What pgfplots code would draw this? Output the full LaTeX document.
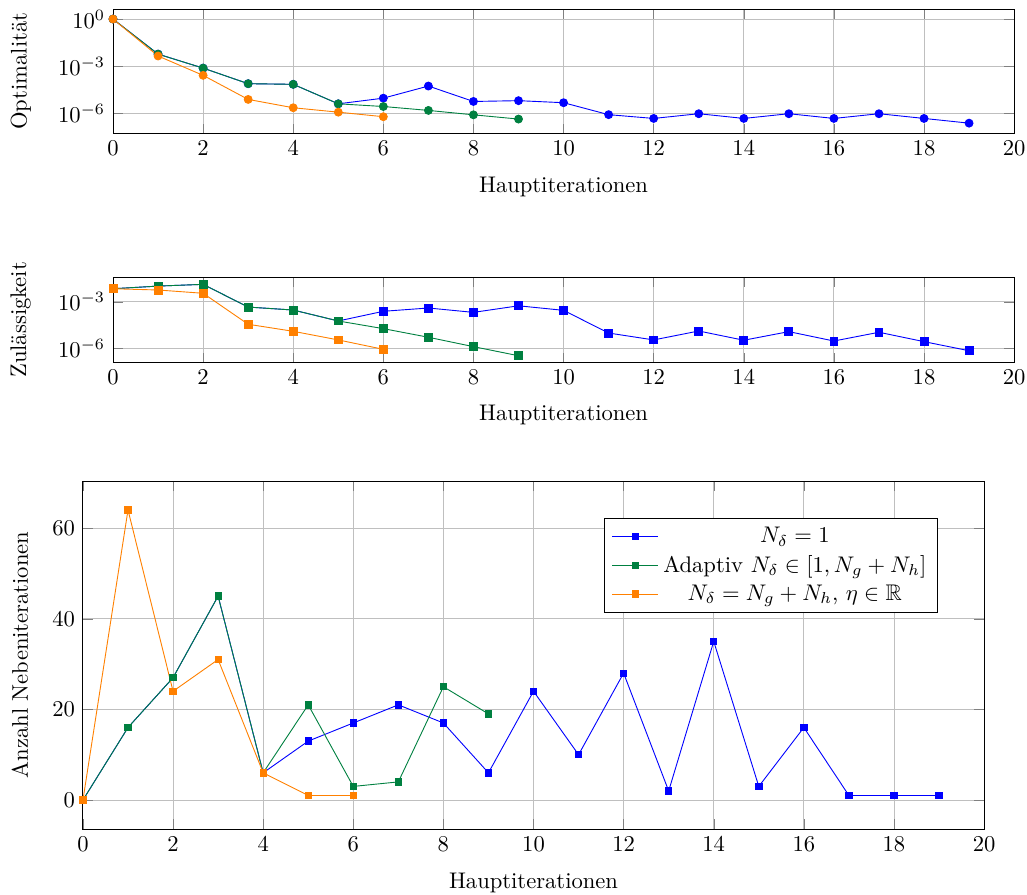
\documentclass[border=0pt]{standalone}
\usepackage{pgfplots}
\usepackage{amssymb}
\pgfplotsset{compat=1.18}

\definecolor{serblue}{RGB}{0,0,255}
\definecolor{sergreen}{RGB}{0,128,64}
\definecolor{serorange}{RGB}{255,128,0}

\pgfplotsset{
  common/.style={
    scale only axis,
    width=398.7pt,
    xmin=0, xmax=20,
    xtick={0,2,...,20},
    grid=major,
    major grid style={gray!50},
    anchor=south west,
  },
}

\begin{document}
\begin{tikzpicture}
\useasboundingbox (0,0) rectangle (454.4pt,-395.6pt);

% Optimalitaet
\begin{axis}[common,
  at={(50.0pt,-59.0pt)},
  height=55.0pt,
  ymode=log,
  ymin=5.4e-8, ymax=4.33,
  ytick={1,1e-3,1e-6},
  xlabel={Hauptiterationen},
  ylabel={Optimalität},
  xlabel style={at={(axis description cs:0.5,-0.432)}, anchor=center},
  ylabel style={at={(axis description cs:-0.1024,0.5)}, anchor=center},
]
\addplot[serblue, mark=*, mark size=1.75pt] coordinates {
 (0,1) (1,5.89e-3) (2,7.59e-4) (3,7.76e-5) (4,7.08e-5) (5,4.07e-6)
 (6,9.33e-6) (7,5.50e-5) (8,5.75e-6) (9,6.46e-6) (10,4.79e-6)
 (11,8.32e-7) (12,4.79e-7) (13,9.55e-7) (14,4.79e-7) (15,9.55e-7)
 (16,4.79e-7) (17,9.55e-7) (18,4.79e-7) (19,2.40e-7)};
\addplot[sergreen, mark=*, mark size=1.75pt] coordinates {
 (0,1) (1,5.89e-3) (2,7.59e-4) (3,7.76e-5) (4,7.08e-5) (5,4.07e-6)
 (6,2.75e-6) (7,1.55e-6) (8,8.13e-7) (9,4.37e-7)};
\addplot[serorange, mark=*, mark size=1.75pt] coordinates {
 (0,1) (1,4.47e-3) (2,2.63e-4) (3,7.76e-6) (4,2.29e-6) (5,1.20e-6)
 (6,6.17e-7)};
\end{axis}

% Zulaessigkeit
\begin{axis}[common,
  at={(50.0pt,-160.3pt)},
  height=37.6pt,
  ymode=log,
  ymin=1.35e-7, ymax=0.0363,
  ytick={1e-3,1e-6},
  xlabel={Hauptiterationen},
  ylabel={Zulässigkeit},
  xlabel style={at={(axis description cs:0.5,-0.620)}, anchor=center},
  ylabel style={at={(axis description cs:-0.1024,0.5)}, anchor=center},
]
\addplot[serblue, mark=square*, mark size=1.75pt] coordinates {
 (0,6.76e-3) (1,1.0e-2) (2,1.29e-2) (3,4.57e-4) (4,2.95e-4) (5,5.89e-5)
 (6,2.45e-4) (7,3.98e-4) (8,2.09e-4) (9,5.50e-4) (10,2.82e-4)
 (11,1.0e-5) (12,3.63e-6) (13,1.35e-5) (14,3.47e-6) (15,1.23e-5)
 (16,3.09e-6) (17,1.12e-5) (18,2.82e-6) (19,7.41e-7)};
\addplot[sergreen, mark=square*, mark size=1.75pt] coordinates {
 (0,6.76e-3) (1,1.0e-2) (2,1.29e-2) (3,4.57e-4) (4,2.95e-4) (5,5.89e-5)
 (6,1.91e-5) (7,5.37e-6) (8,1.35e-6) (9,3.55e-7)};
\addplot[serorange, mark=square*, mark size=1.75pt] coordinates {
 (0,6.76e-3) (1,5.62e-3) (2,3.47e-3) (3,3.63e-5) (4,1.29e-5) (5,3.63e-6)
 (6,9.12e-7)};
\end{axis}

% Anzahl Nebeniterationen
\begin{axis}[common,
  at={(36.7pt,-366.8pt)},
  height=154.0pt,
  ymin=-6.4, ymax=70.4,
  ytick={0,20,40,60},
  xlabel={Hauptiterationen},
  ylabel={Anzahl Nebeniterationen},
  xlabel style={at={(axis description cs:0.5,-0.155)}, anchor=center},
  ylabel style={at={(axis description cs:-0.0699,0.5)}, anchor=center},
  legend cell align=center,
  legend style={at={(rel axis cs:0.949,0.894)}, anchor=north east},
  legend image code/.code={%
    \draw[mark repeat=2,mark phase=2]
      plot coordinates {(0cm,0cm) (0.36cm,0cm) (0.72cm,0cm)};},
]
\addplot[serblue, mark=square*, mark size=1.4pt] coordinates {
 (0,0) (1,16) (2,27) (3,45) (4,6) (5,13) (6,17) (7,21) (8,17) (9,6)
 (10,24) (11,10) (12,28) (13,2) (14,35) (15,3) (16,16) (17,1) (18,1) (19,1)};
\addlegendentry{$N_\delta = 1$}
\addplot[sergreen, mark=square*, mark size=1.4pt] coordinates {
 (0,0) (1,16) (2,27) (3,45) (4,6) (5,21) (6,3) (7,4) (8,25) (9,19)};
\addlegendentry{Adaptiv $N_\delta \in [1, N_g + N_h]$}
\addplot[serorange, mark=square*, mark size=1.4pt] coordinates {
 (0,0) (1,64) (2,24) (3,31) (4,6) (5,1) (6,1)};
\addlegendentry{$N_\delta = N_g + N_h$, $\eta \in \mathbb{R}$}
\end{axis}
\end{tikzpicture}
\end{document}
